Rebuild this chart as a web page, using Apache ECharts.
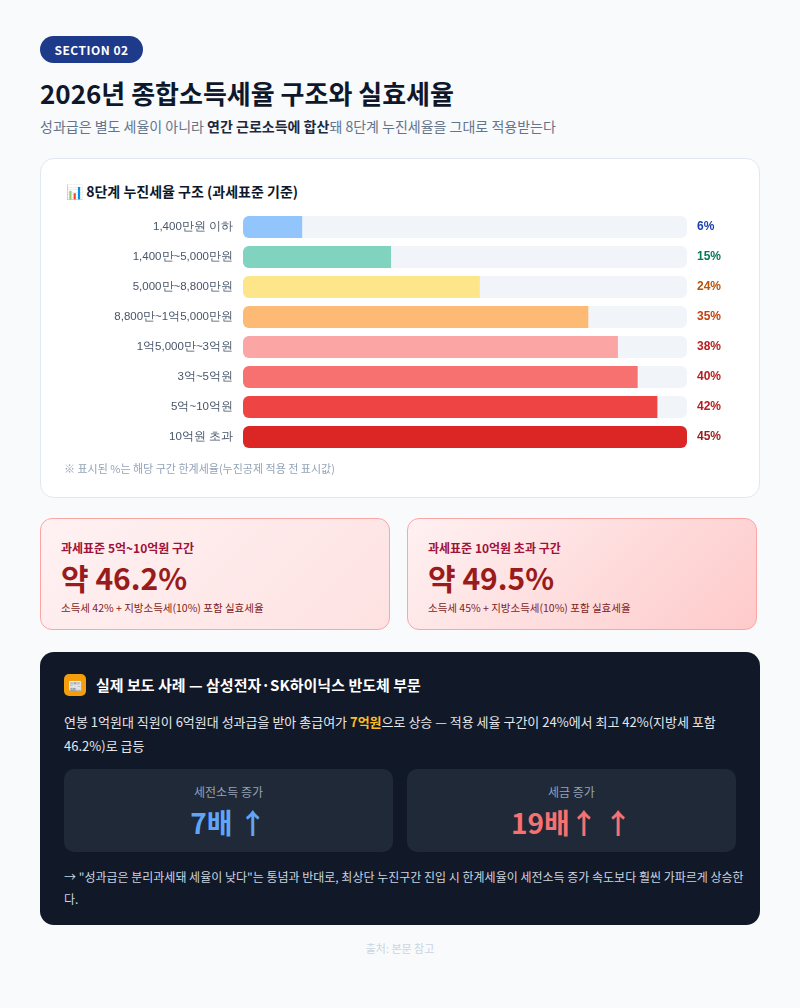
<!DOCTYPE html>
<html><head><meta charset="utf-8">
<script src="https://cdn.jsdelivr.net/npm/echarts@6/dist/echarts.min.js"></script>
<style>
body{margin:0;background:#f8fafc;font-family:"Noto Sans CJK KR","Noto Sans",sans-serif;width:800px;height:1008px;position:relative;overflow:hidden}
.abs{position:absolute}
.badge{left:40px;top:36px;width:103px;height:27px;border-radius:14px;background:#1e3a8a;color:#fff;font-size:12px;font-weight:700;line-height:27px;text-align:center;letter-spacing:.5px}
h1{position:absolute;left:40px;top:74px;margin:0;font-size:26px;font-weight:700;color:#0f172a}
.sub{left:40px;top:116px;font-size:14px;color:#64748b}
.sub b{color:#1e293b}
.card{left:40px;top:158px;width:718px;height:338px;background:#fff;border:1px solid #e2e8f0;border-radius:14px}
.ct{left:66px;top:181px;font-size:14px;font-weight:700;color:#0f172a}
.note{left:64px;top:460px;font-size:11px;color:#94a3b8}
.pink{top:518px;width:350px;height:112px;border-radius:12px;border:1px solid #fca5a5;box-sizing:border-box}
.pink .t{position:absolute;left:20px;top:20px;font-size:12px;font-weight:700;color:#9f1239}
.pink .v{position:absolute;left:20px;top:36px;font-size:30px;font-weight:700;color:#991b1b}
.pink .d{position:absolute;left:20px;top:81px;font-size:10.5px;color:#7f1d1d}
.dark{left:40px;top:652px;width:720px;height:273px;border-radius:14px;background:#111827;color:#e5e7eb}
.box{position:absolute;top:117px;width:329px;height:83px;border-radius:10px;background:#1f2937;text-align:center}
.box .l{margin-top:14px;font-size:12px;color:#94a3b8}
.box .n{font-size:28px;font-weight:700;margin-top:2px}
</style></head><body>
<div class="abs badge">SECTION 02</div>
<h1>2026년 종합소득세율 구조와 실효세율</h1>
<div class="abs sub">성과급은 별도 세율이 아니라 <b>연간 근로소득에 합산</b>돼 8단계 누진세율을 그대로 적용받는다</div>
<div class="abs card"></div>
<div class="abs ct">📊 8단계 누진세율 구조 (과세표준 기준)</div>
<div id="main" class="abs" style="left:40px;top:200px;width:720px;height:264px"></div>
<div class="abs note">※ 표시된 %는 해당 구간 한계세율(누진공제 적용 전 표시값)</div>
<div class="abs pink" style="left:40px;background:linear-gradient(135deg,#fff1f2,#fee2e2)">
<div class="t">과세표준 5억~10억원 구간</div><div class="v">약 46.2%</div><div class="d">소득세 42% + 지방소득세(10%) 포함 실효세율</div></div>
<div class="abs pink" style="left:407px;background:linear-gradient(135deg,#fff1f2,#fecaca)">
<div class="t">과세표준 10억원 초과 구간</div><div class="v">약 49.5%</div><div class="d">소득세 45% + 지방소득세(10%) 포함 실효세율</div></div>
<div class="abs dark">
<div class="abs" style="left:24px;top:22px;width:22px;height:22px;border-radius:5px;background:#f59e0b;font-size:12px;line-height:22px;text-align:center">📰</div>
<div class="abs" style="left:56px;top:22px;font-size:15px;font-weight:700;color:#fff">실제 보도 사례 — 삼성전자·SK하이닉스 반도체 부문</div>
<div class="abs" style="left:24px;top:58px;width:680px;font-size:13px;line-height:24px;color:#e5e7eb">연봉 1억원대 직원이 6억원대 성과급을 받아 총급여가 <b style="color:#fbbf24">7억원</b>으로 상승 — 적용 세율 구간이 24%에서 최고 42%(지방세 포함 46.2%)로 급등</div>
<div class="box" style="left:24px"><div class="l">세전소득 증가</div><div class="n" style="color:#60a5fa">7배 ↑</div></div>
<div class="box" style="left:367px"><div class="l">세금 증가</div><div class="n" style="color:#f87171">19배↑ ↑</div></div>
<div class="abs" style="left:24px;top:214px;width:680px;font-size:12px;line-height:22px;color:#cbd5e1">→ "성과급은 분리과세돼 세율이 낮다"는 통념과 반대로, 최상단 누진구간 진입 시 한계세율이 세전소득 증가 속도보다 훨씬 가파르게 상승한다.</div>
</div>
<div class="abs" style="left:0;width:800px;top:940px;text-align:center;font-size:11px;color:#cbd5e1">출처: 본문 참고</div>
<script>
const brackets=['1,400만원 이하','1,400만~5,000만원','5,000만~8,800만원','8,800만~1억5,000만원','1억5,000만~3억원','3억~5억원','5억~10억원','10억원 초과'];
const rates=[6,15,24,35,38,40,42,45];
const barColors=['#93c5fd','#80d3bf','#fde68a','#fdba74','#fca5a5','#f87171','#ef4444','#dc2626'];
const labelColors=['#1e40af','#047857','#b45309','#c2410c','#b91c1c','#b91c1c','#b91c1c','#991b1b'];
const maxRate=45;
let chart=echarts.init(document.getElementById('main'));
chart.setOption({
  animation:false,
  grid:{left:203,right:73,top:12,height:240},
  xAxis:{type:'value',min:0,max:maxRate,show:false},
  yAxis:[{type:'category',data:brackets,inverse:true,axisLine:{show:false},axisTick:{show:false},
    axisLabel:{color:'#475569',fontSize:11.5,margin:10}},
    {type:'category',data:rates,inverse:true,position:'right',axisLine:{show:false},axisTick:{show:false},
    axisLabel:{margin:10,fontSize:12,fontWeight:'bold',formatter:(v,i)=>'{c'+i+'|'+v+'%}',
      rich:Object.fromEntries(labelColors.map((c,i)=>['c'+i,{color:c,fontSize:12,fontWeight:'bold'}]))}}],
  series:[
    {type:'bar',data:rates.map(()=>maxRate),barWidth:22,itemStyle:{color:'#f1f5f9',borderRadius:6},silent:true},
    {type:'bar',barGap:'-100%',barWidth:22,data:rates.map((v,i)=>({value:v,itemStyle:{color:barColors[i],borderRadius:v===maxRate?6:[6,0,0,6]}}))}
  ]
});
</script>
</body></html>
